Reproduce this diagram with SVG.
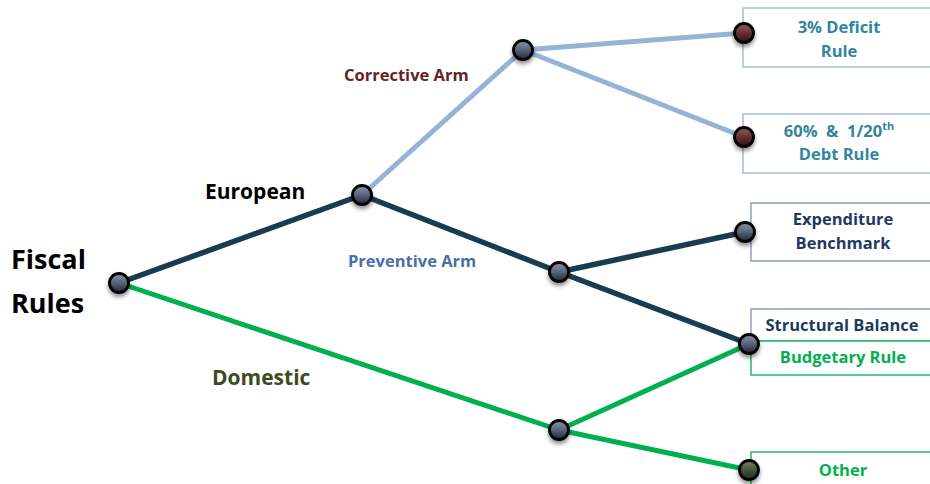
<svg xmlns="http://www.w3.org/2000/svg" width="930" height="484" viewBox="0 0 930 484">
<defs>
<style>
text{font-family:"Open Sans","Liberation Sans",Arial,sans-serif;font-weight:700;}
.box{fill:#fff;stroke-width:1.3;}
.bl{stroke:#95B3D7;}
.bg{stroke:#8093AD;}
.gr{stroke:#00B050;}
.edge{fill:none;stroke-linecap:round;}
.dark{stroke:#193D4E;stroke-width:5.5;}
.light{stroke:#95B3D7;stroke-width:5;}
.green{stroke:#00B050;stroke-width:5;}
.node{stroke:#000;stroke-width:2.8;filter:url(#sh);}
.bt{font-size:16.5px;text-anchor:middle;}
.teal{fill:#31859C;}
.navy{fill:#1F3A5F;}
.gt{fill:#00B050;}
</style>
<linearGradient id="gBlue" x1="0" y1="0" x2="0" y2="1">
<stop offset="0" stop-color="#8D97AA"/><stop offset="0.5" stop-color="#596378"/><stop offset="1" stop-color="#1F2532"/>
</linearGradient>
<linearGradient id="gRed" x1="0" y1="0" x2="0" y2="1">
<stop offset="0" stop-color="#956060"/><stop offset="0.5" stop-color="#652F30"/><stop offset="1" stop-color="#331212"/>
</linearGradient>
<linearGradient id="gGreen" x1="0" y1="0" x2="0" y2="1">
<stop offset="0" stop-color="#75836A"/><stop offset="0.5" stop-color="#47533B"/><stop offset="1" stop-color="#222A1B"/>
</linearGradient>
<filter id="sh" x="-50%" y="-50%" width="200%" height="200%">
<feDropShadow dx="0" dy="3" stdDeviation="2" flood-color="#000" flood-opacity="0.45"/>
</filter>
</defs>

<g id="boxes">
<g id="box-deficit"><rect class="box bl" x="743" y="8" width="200" height="59"/><text class="bt teal" x="839" y="33">3% Deficit</text><text class="bt teal" x="839" y="57">Rule</text></g>
<g id="box-debt"><rect class="box bl" x="743" y="114" width="200" height="59"/><text class="bt teal" x="839" y="137" style="white-space:pre">60%  &amp;  1/20<tspan font-size="11" dy="-7">th</tspan></text><text class="bt teal" x="839" y="160">Debt Rule</text></g>
<g id="box-expenditure"><rect class="box bg" x="751" y="203" width="200" height="58"/><text class="bt navy" x="843" y="225">Expenditure</text><text class="bt navy" x="843" y="249">Benchmark</text></g>
<g id="box-structural"><rect class="box bg" x="751" y="309" width="200" height="32"/><text class="bt navy" x="842" y="331">Structural Balance</text></g>
<g id="box-budgetary"><rect class="box gr" x="751" y="341" width="200" height="34"/><text class="bt gt" x="843" y="363">Budgetary Rule</text></g>
<g id="box-other"><rect class="box gr" x="751" y="452" width="200" height="50"/><text class="bt gt" x="843" y="476">Other</text></g>
</g>

<g id="connectors">
<line class="edge green" x1="119" y1="283" x2="559" y2="430"/>
<line class="edge green" x1="559" y1="430" x2="749" y2="344"/>
<line class="edge green" x1="559" y1="430" x2="749" y2="470"/>
<line class="edge light" x1="362" y1="195" x2="523" y2="50"/>
<line class="edge light" x1="523" y1="50" x2="744" y2="33"/>
<line class="edge light" x1="523" y1="50" x2="744" y2="137"/>
<line class="edge dark" x1="119" y1="283" x2="362" y2="195"/>
<line class="edge dark" x1="362" y1="195" x2="559" y2="272"/>
<line class="edge dark" x1="559" y1="272" x2="745" y2="232"/>
<line class="edge dark" x1="559" y1="272" x2="749" y2="344"/>
</g>

<g id="labels">
<text x="11" y="269" font-size="27" fill="#000">Fiscal</text>
<text x="11" y="313" font-size="27" fill="#000">Rules</text>
<text x="205" y="199" font-size="21" fill="#000">European</text>
<text x="344" y="81" font-size="16.5" fill="#632523">Corrective Arm</text>
<text x="348" y="267" font-size="16.5" fill="#4870A8">Preventive Arm</text>
<text x="212" y="385" font-size="21" fill="#3D4B1F">Domestic</text>
</g>

<g id="node-root"><circle class="node" cx="119" cy="283" r="9.5" fill="url(#gBlue)"/></g>
<g id="node-european"><circle class="node" cx="362" cy="195" r="9.5" fill="url(#gBlue)"/></g>
<g id="node-corrective"><circle class="node" cx="523" cy="50" r="9.5" fill="url(#gBlue)"/></g>
<g id="node-preventive"><circle class="node" cx="559" cy="272" r="9.5" fill="url(#gBlue)"/></g>
<g id="node-domestic"><circle class="node" cx="559" cy="430" r="9.5" fill="url(#gBlue)"/></g>
<g id="node-deficit"><circle class="node" cx="744" cy="33" r="9.5" fill="url(#gRed)"/></g>
<g id="node-debt"><circle class="node" cx="744" cy="137" r="9.5" fill="url(#gRed)"/></g>
<g id="node-expenditure"><circle class="node" cx="745" cy="232" r="9.5" fill="url(#gBlue)"/></g>
<g id="node-structural"><circle class="node" cx="749" cy="344" r="9.5" fill="url(#gBlue)"/></g>
<g id="node-other"><circle class="node" cx="749" cy="470" r="9.5" fill="url(#gGreen)"/></g>
</svg>
